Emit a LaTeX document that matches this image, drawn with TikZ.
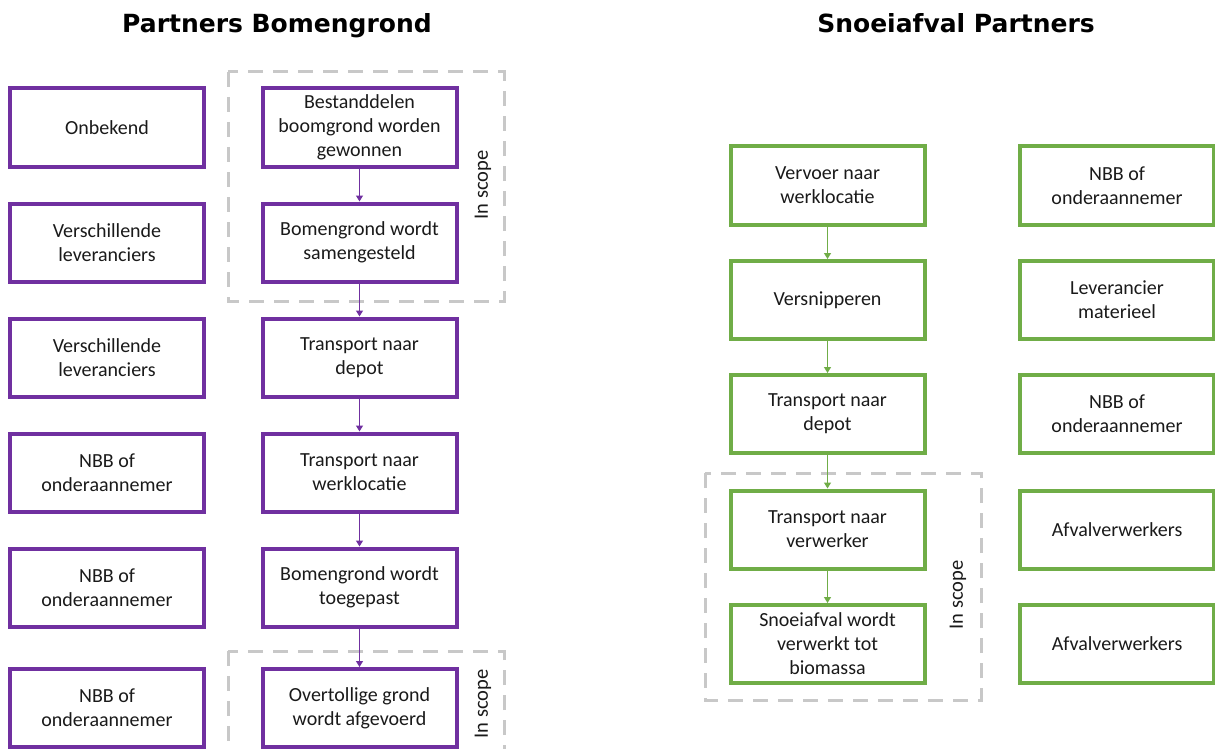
\documentclass[tikz,border=0pt]{standalone}
\usepackage{fontspec}
\setmainfont{Carlito}
\newfontfamily\titlefont{DejaVu Sans}
\usetikzlibrary{arrows.meta}
\definecolor{pur}{HTML}{7030A0}
\definecolor{grn}{HTML}{70AD47}
\definecolor{dgray}{HTML}{C8C8C8}
\definecolor{txt}{HTML}{1A1A1A}
\begin{document}
\begin{tikzpicture}[x=1pt,y=-1pt,
 pbox/.style={draw=pur,line width=4pt,minimum width=194pt,minimum height=78pt,align=center,inner sep=0pt,text=txt,font=\fontsize{20}{24}\selectfont},
 gbox/.style={pbox,draw=grn},
 parr/.style={draw=pur,line width=1.2pt,-{Triangle[width=7pt,length=6pt]}},
 garr/.style={parr,draw=grn},
 scopebox/.style={draw=dgray,line width=3pt,dash pattern=on 15pt off 10pt},
 scopelabel/.style={rotate=90,text=txt,inner sep=0pt,font=\fontsize{20.5}{24}\selectfont},
 titlestyle/.style={text=black,inner sep=0pt,anchor=base,font=\titlefont\bfseries\fontsize{25}{30}\selectfont}
]
\useasboundingbox (0,0) rectangle (1215,749);
\fill[white] (0,0) rectangle (1215,749);

% titles
\node[titlestyle] (t1) at (277,33) {Partners Bomengrond};
\node[titlestyle] (t2) at (956,33) {Snoeiafval Partners};

% scope boxes
\draw[scopebox] (228,72) rectangle (504,301);
\draw[scopebox] (228,651) rectangle (504,780);
\draw[scopebox] (705,473) rectangle (981,700);
\node[scopelabel] (s1) at (483,185) {In scope};
\node[scopelabel] (s2) at (483,704) {In scope};
\node[scopelabel] (s3) at (958,595) {In scope};

% left side
\node[pbox] (l1) at (107,127.5) {Onbekend};
\node[pbox] (l2) at (107,242.5) {Verschillende\\leveranciers};
\node[pbox] (l3) at (107,357.5) {Verschillende\\leveranciers};
\node[pbox] (l4) at (107,472.5) {NBB of\\onderaannemer};
\node[pbox] (l5) at (107,587.5) {NBB of\\onderaannemer};
\node[pbox] (l6) at (107,708) {NBB of\\onderaannemer};

\node[pbox] (m1) at (359.5,127.5) {Bestanddelen\\boomgrond worden\\gewonnen};
\node[pbox] (m2) at (359.5,242.5) {Bomengrond wordt\\samengesteld};
\node[pbox] (m3) at (359.5,357.5) {Transport naar\\depot};
\node[pbox] (m4) at (359.5,472.5) {Transport naar\\werklocatie};
\node[pbox] (m5) at (359.5,587.5) {Bomengrond wordt\\toegepast};
\node[pbox] (m6) at (359.5,708) {Overtollige grond\\wordt afgevoerd};

\draw[parr] (m1) -- (m2);
\draw[parr] (m2) -- (m3);
\draw[parr] (m3) -- (m4);
\draw[parr] (m4) -- (m5);
\draw[parr] (m5) -- (m6);

% right side
\node[gbox] (g1) at (827.5,185.5) {Vervoer naar\\werklocatie};
\node[gbox] (g2) at (827.5,300) {Versnipperen};
\node[gbox] (g3) at (827.5,414) {Transport naar\\depot};
\node[gbox] (g4) at (827.5,529.5) {Transport naar\\verwerker};
\node[gbox] (g5) at (827.5,644) {Snoeiafval wordt\\verwerkt tot\\biomassa};

\draw[garr] (g1) -- (g2);
\draw[garr] (g2) -- (g3);
\draw[garr] (g3) -- (g4);
\draw[garr] (g4) -- (g5);

\node[gbox] (r1) at (1117,185.5) {NBB of\\onderaannemer};
\node[gbox] (r2) at (1117,300) {Leverancier\\materieel};
\node[gbox] (r3) at (1117,414) {NBB of\\onderaannemer};
\node[gbox] (r4) at (1117,529.5) {Afvalverwerkers};
\node[gbox] (r5) at (1117,644) {Afvalverwerkers};
\end{tikzpicture}
\end{document}
